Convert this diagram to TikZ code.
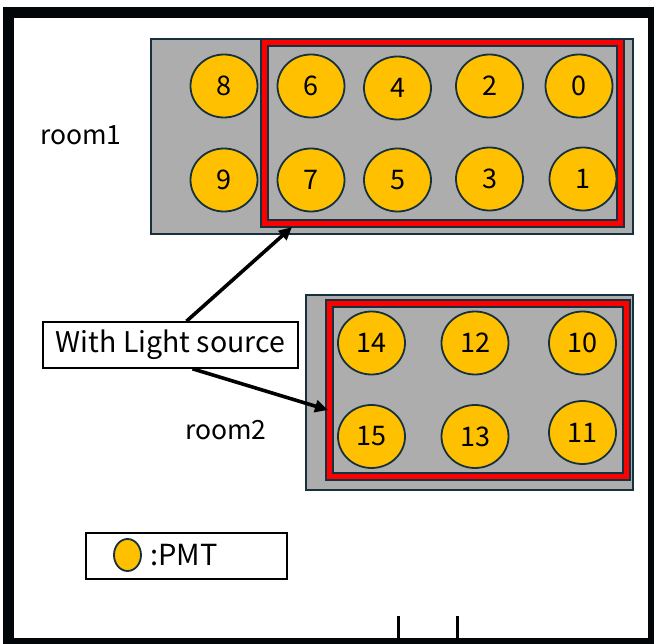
\documentclass[tikz,border=0pt]{standalone}
\usepackage{fontspec}
\setmainfont{Noto Sans CJK JP}
\usetikzlibrary{arrows.meta,calc,shapes.geometric}

\definecolor{pmtgold}{HTML}{FFC000}
\definecolor{roomgray}{HTML}{ADADAD}
\definecolor{edgeblue}{HTML}{17303E}
\definecolor{frameblack}{HTML}{030608}

\tikzset{
  x=1pt, y=-1pt,
  pmt/.style={ellipse, draw=edgeblue, line width=1.8, fill=pmtgold,
    minimum width=67, minimum height=63, inner sep=0,
    font=\fontsize{27}{27}\selectfont},
  roombox/.style={draw=edgeblue, line width=1.6, fill=roomgray},
  redband/.style={draw=edgeblue, line width=1.4, fill=red},
  innerbox/.style={draw=edgeblue, line width=1.4, fill=roomgray},
  txt/.style={font=\fontsize{26.5}{26.5}\selectfont, inner sep=0},
  textbox/.style={draw=black, line width=1.6, fill=white, inner sep=0,
    minimum width=255, minimum height=46, font=\fontsize{28.5}{28.5}\selectfont},
  pointer/.style={line width=3.6, -{Triangle[length=13,width=12]}},
  tick/.style={line width=3},
}

\begin{document}
\begin{tikzpicture}
\clip (0,0) rectangle (654,644);
\fill[white] (0,0) rectangle (654,644);

% outer wall
\draw[frameblack, line width=11] (8,13) rectangle (653,643);
% marks on the lower wall
\draw[tick] (398,616) -- (398,640);
\draw[tick] (457,616) -- (457,640);

% room1 with its red-framed inner area
\draw[roombox] (151,39) rectangle (633,234);
\draw[redband] (261,39) rectangle (624,227);
\draw[innerbox] (268,46) rectangle (617,220);

% room2 with its red-framed inner area
\draw[roombox] (306,295) rectangle (633,490);
\draw[redband] (326,300) rectangle (630,480);
\draw[innerbox] (333,307) rectangle (623,473);

% PMTs in room1
\node[pmt] (p8) at (224,86) {8};
\node[pmt] (p9) at (224,180) {9};
\node[pmt] (p6) at (311,86) {6};
\node[pmt] (p7) at (311,180) {7};
\node[pmt] (p4) at (397.5,88) {4};
\node[pmt] (p5) at (397.5,180) {5};
\node[pmt] (p2) at (489.5,86) {2};
\node[pmt] (p3) at (489.5,179) {3};
\node[pmt] (p0) at (579,86) {0};
\node[pmt] (p1) at (583,179) {1};

% PMTs in room2
\node[pmt] (p14) at (371.5,343) {14};
\node[pmt] (p12) at (475,343) {12};
\node[pmt] (p10) at (582.5,343) {10};
\node[pmt] (p15) at (371.5,436.5) {15};
\node[pmt] (p13) at (475,436.5) {13};
\node[pmt] (p11) at (582.5,432.5) {11};

% room names
\node[txt] (r1) at (81,135) {room1};
\node[txt] (r2) at (226,430) {room2};

% light source label and pointers
\node[textbox] (light) at (170.5,345) {With Light source};
\coordinate (t1) at (292,227);
\coordinate (t2) at (328,410);
\coordinate (s1) at ($(light.north)+(16,0)$);
\coordinate (s2) at ($(light.south)+(22,0)$);
\draw[pointer] (s1) -- (t1);
\draw[pointer] (s2) -- (t2);

% legend
\node[draw=black, line width=1.6, fill=white, minimum width=201, minimum height=46] (legend) at (186.5,556) {};
\node[ellipse, draw=edgeblue, line width=1.8, fill=pmtgold, minimum width=27, minimum height=32, inner sep=0] (lp) at (127.5,555) {};
\node[txt, anchor=west, font=\fontsize{29}{29}\selectfont] (lt) at (150,555) {:PMT};
\end{tikzpicture}
\end{document}
